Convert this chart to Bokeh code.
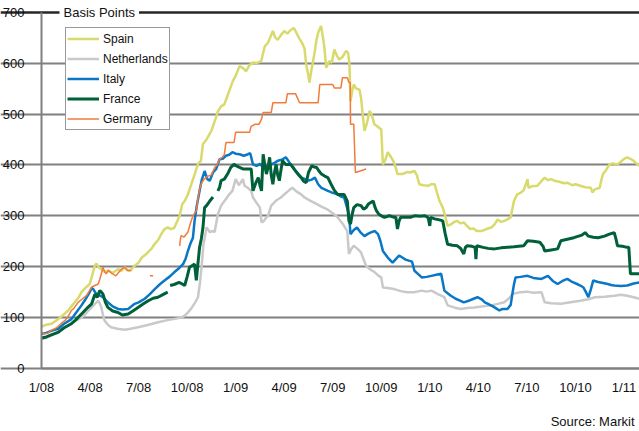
from bokeh.plotting import figure
from bokeh.models import Range1d, FixedTicker, Legend, LegendItem, Label, Grid
from bokeh.embed import file_html
from bokeh.resources import INLINE

nan = float("nan")

# x values: months since January 2008
tick_months = [0, 3, 6, 9, 12, 15, 18, 21, 24, 27, 30, 33, 36]
tick_labels = ["1/08", "4/08", "7/08", "10/08", "1/09", "4/09", "7/09",
               "10/09", "1/10", "4/10", "7/10", "10/10", "1/11"]
y_ticks = [0, 100, 200, 300, 400, 500, 600, 700]
x_end = 36.96

spain = [(0.0, 82), (0.3, 86), (0.62, 88), (0.8, 92), (1.03, 97), (1.3, 104), (1.65, 114),
         (1.85, 122), (2.06, 130), (2.3, 140), (2.47, 150), (2.7, 158), (2.98, 166), (3.15, 185),
         (3.29, 202), (3.4, 206), (3.55, 198), (3.7, 195), (3.9, 190), (4.1, 192), (4.4, 188),
         (4.73, 195), (4.95, 192), (5.14, 199), (5.35, 192), (5.56, 195), (5.76, 202), (6.0, 208),
         (6.2, 218), (6.48, 225), (6.79, 235), (7.0, 245), (7.2, 252), (7.4, 264), (7.6, 274),
         (7.8, 277), (8.0, 274), (8.2, 276), (8.4, 290), (8.54, 300), (8.7, 323), (8.85, 329),
         (9.05, 342), (9.26, 362), (9.45, 380), (9.67, 402), (9.85, 408), (9.98, 441), (10.2, 450),
         (10.5, 467), (10.75, 490), (10.9, 505), (11.1, 515), (11.3, 519), (11.45, 532), (11.6, 545),
         (11.83, 565), (12.0, 575), (12.24, 594), (12.45, 590), (12.65, 584), (12.85, 596),
         (13.07, 601), (13.3, 600), (13.58, 604), (13.8, 633), (14.0, 640), (14.3, 663), (14.45, 650),
         (14.6, 646), (14.8, 655), (15.0, 663), (15.2, 658), (15.4, 665), (15.6, 669), (15.75, 660),
         (15.9, 650), (16.1, 640), (16.26, 628), (16.36, 597), (16.5, 575), (16.56, 562), (16.7, 590),
         (16.77, 601), (16.9, 625), (16.98, 643), (17.1, 660), (17.28, 673), (17.4, 650), (17.49, 628),
         (17.6, 591), (17.7, 598), (17.8, 604), (17.95, 601), (18.1, 627), (18.25, 615), (18.4, 607),
         (18.6, 612), (18.83, 624), (18.95, 620), (19.03, 600), (19.1, 525), (19.2, 545), (19.3, 558),
         (19.45, 550), (19.65, 548), (19.75, 532), (19.85, 500), (19.96, 467), (20.1, 480),
         (20.27, 506), (20.4, 500), (20.57, 480), (20.75, 476), (20.9, 472), (21.0, 470), (21.1, 401),
         (21.25, 410), (21.4, 425), (21.55, 418), (21.7, 410), (21.85, 400), (22.0, 382), (22.3, 382),
         (22.6, 386), (22.8, 385), (23.05, 388), (23.2, 380), (23.35, 362), (23.6, 360), (23.9, 359),
         (24.1, 362), (24.3, 362), (24.45, 345), (24.6, 329), (24.8, 316), (24.95, 300), (25.1, 280),
         (25.3, 283), (25.5, 288), (25.7, 290), (25.9, 285), (26.1, 287), (26.3, 280), (26.5, 274),
         (26.7, 275), (26.9, 270), (27.2, 270), (27.5, 274), (27.8, 277), (28.0, 283), (28.2, 293),
         (28.4, 288), (28.6, 290), (28.8, 293), (29.0, 297), (29.2, 329), (29.4, 342), (29.6, 345),
         (29.8, 350), (30.04, 372), (30.1, 355), (30.3, 358), (30.65, 359), (30.9, 368), (31.1, 375),
         (31.3, 370), (31.5, 372), (31.7, 369), (32.0, 367), (32.3, 364), (32.5, 365), (32.8, 360),
         (33.0, 362), (33.3, 359), (33.6, 356), (33.95, 355), (34.05, 346), (34.2, 352), (34.5, 355),
         (34.6, 370), (34.7, 382), (34.9, 390), (35.1, 401), (35.3, 403), (35.6, 401), (35.8, 406),
         (36.0, 412), (36.2, 415), (36.4, 412), (36.6, 408), (36.8, 402), (36.95, 398)]

netherlands = [(0.0, 58), (0.3, 60), (0.7, 66), (1.0, 72), (1.44, 81), (1.8, 88), (2.1, 94),
               (2.47, 100), (2.8, 110), (3.1, 120), (3.3, 127), (3.5, 133), (3.6, 128), (3.7, 120),
               (3.8, 105), (3.9, 94), (4.1, 86), (4.3, 81), (4.7, 78), (5.14, 76), (5.5, 78),
               (5.97, 81), (6.5, 85), (7.2, 91), (7.8, 95), (8.3, 98), (8.64, 100), (8.85, 104),
               (9.05, 110), (9.3, 120), (9.5, 130), (9.67, 140), (9.8, 170), (9.9, 202), (10.0, 241),
               (10.2, 277), (10.4, 268), (10.6, 270), (10.7, 268), (10.9, 303), (11.1, 320),
               (11.4, 333), (11.6, 342), (11.8, 349), (12.0, 372), (12.2, 360), (12.45, 372),
               (12.55, 359), (12.75, 355), (12.96, 349), (13.07, 336), (13.3, 325), (13.5, 316),
               (13.6, 287), (13.75, 290), (13.9, 297), (14.0, 300), (14.2, 320), (14.5, 330),
               (14.8, 336), (15.0, 342), (15.3, 350), (15.5, 355), (15.75, 348), (16.05, 342),
               (16.25, 336), (16.6, 330), (16.9, 325), (17.3, 318), (17.7, 312), (18.0, 305),
               (18.3, 297), (18.6, 285), (18.9, 270), (19.0, 225), (19.15, 235), (19.3, 241),
               (19.5, 236), (19.75, 228), (19.9, 215), (20.06, 202), (20.3, 195), (20.6, 189),
               (20.8, 183), (21.0, 179), (21.1, 159), (21.4, 158), (21.8, 156), (22.2, 152),
               (22.6, 150), (23.05, 150), (23.5, 153), (23.8, 151), (24.1, 153), (24.5, 146),
               (24.9, 140), (25.1, 124), (25.5, 120), (25.9, 117), (26.3, 119), (26.75, 120),
               (27.2, 122), (27.8, 124), (28.2, 127), (28.6, 130), (28.9, 138), (29.1, 146),
               (29.3, 148), (29.6, 150), (30.0, 151), (30.4, 149), (30.9, 150), (31.1, 130),
               (31.5, 128), (32.1, 127), (32.7, 130), (33.3, 133), (33.8, 136), (34.2, 140),
               (34.8, 141), (35.4, 143), (35.8, 145), (36.2, 143), (36.6, 140), (36.95, 137)]

italy = [(0.0, 68), (0.3, 70), (0.6, 74), (1.03, 78), (1.4, 88), (1.85, 97), (2.1, 108),
         (2.47, 124), (2.7, 135), (2.98, 150), (3.1, 158), (3.2, 156), (3.35, 148), (3.5, 145),
         (3.8, 140), (4.1, 130), (4.4, 122), (4.73, 117), (5.0, 116), (5.35, 117), (5.55, 122),
         (5.76, 127), (6.0, 130), (6.38, 137), (6.7, 146), (7.0, 156), (7.3, 165), (7.6, 173),
         (7.9, 180), (8.2, 189), (8.5, 197), (8.75, 205), (8.9, 215), (9.05, 231), (9.2, 245),
         (9.36, 257), (9.46, 290), (9.6, 320), (9.77, 349), (9.9, 370), (10.08, 388), (10.25, 372),
         (10.4, 369), (10.6, 385), (10.8, 392), (11.0, 411), (11.2, 412), (11.4, 418), (11.6, 420),
         (11.8, 425), (12.0, 422), (12.24, 421), (12.5, 418), (12.76, 421), (12.9, 423),
         (13.07, 401), (13.3, 398), (13.5, 402), (13.7, 395), (13.95, 398), (14.2, 401),
         (14.4, 404), (14.6, 408), (14.85, 410), (15.1, 415), (15.25, 408), (15.4, 401),
         (15.6, 392), (15.8, 385), (16.05, 375), (16.3, 372), (16.5, 369), (16.7, 371),
         (16.9, 375), (17.1, 362), (17.3, 355), (17.5, 352), (17.7, 349), (18.0, 345), (18.3, 342),
         (18.5, 338), (18.7, 336), (18.85, 320), (19.0, 303), (19.1, 264), (19.3, 272), (19.5, 277),
         (19.7, 268), (19.96, 260), (20.2, 265), (20.4, 268), (20.6, 270), (20.8, 264),
         (20.95, 250), (21.1, 231), (21.4, 218), (21.7, 208), (21.9, 215), (22.1, 222),
         (22.3, 218), (22.5, 214), (22.7, 212), (22.9, 210), (23.05, 192), (23.3, 185),
         (23.5, 179), (23.8, 180), (24.1, 182), (24.4, 184), (24.7, 186), (24.9, 153), (25.1, 148),
         (25.3, 143), (25.6, 137), (25.9, 133), (26.1, 130), (26.4, 133), (26.7, 137),
         (26.95, 140), (27.2, 136), (27.4, 130), (27.6, 127), (27.9, 122), (28.1, 118),
         (28.3, 114), (28.5, 117), (28.8, 117), (29.0, 125), (29.1, 146), (29.2, 165), (29.3, 179),
         (29.6, 180), (30.04, 182), (30.4, 178), (30.9, 176), (31.1, 179), (31.3, 182), (31.6, 172),
         (31.9, 166), (32.2, 172), (32.5, 176), (32.8, 170), (33.1, 166), (33.3, 163), (33.5, 159),
         (33.65, 150), (33.8, 140), (33.95, 155), (34.1, 173), (34.4, 170), (34.7, 168),
         (35.0, 166), (35.2, 164), (35.4, 163), (35.8, 162), (36.2, 163), (36.6, 167), (36.95, 169)]

france = [(0.0, 60), (0.3, 62), (0.6, 66), (1.03, 71), (1.4, 80), (1.85, 88), (2.1, 95),
          (2.47, 107), (2.8, 118), (3.1, 127), (3.3, 146), (3.45, 140), (3.6, 153), (3.7, 150),
          (3.8, 146), (3.95, 130), (4.1, 120), (4.4, 113), (4.73, 110), (5.0, 105), (5.35, 107),
          (5.6, 112), (5.97, 120), (6.3, 127), (6.6, 133), (6.9, 138), (7.2, 140), (7.5, 145),
          (7.8, 150), (7.85, nan),
          (7.95, 163), (8.2, 165), (8.5, 169), (8.7, 166), (8.85, 163), (9.0, 180), (9.15, 199),
          (9.3, 202), (9.46, 205), (9.57, 173), (9.65, 200), (9.77, 238), (9.88, 255), (9.98, 277),
          (10.08, 316), (10.2, 320), (10.4, 329), (10.6, 337), (10.75, nan),
          (10.9, 349), (11.0, 355), (11.1, 369), (11.3, 372), (11.5, 382), (11.7, 395),
          (11.9, 401), (12.05, 398), (12.24, 395), (12.45, 392), (12.65, 392), (12.96, 392),
          (13.07, 349), (13.25, 365), (13.4, 375), (13.5, 360), (13.6, 349), (13.7, 421),
          (13.8, 400), (13.9, 382), (14.0, 395), (14.1, 415), (14.2, 380), (14.3, 362), (14.4, 385),
          (14.5, 401), (14.6, 380), (14.7, 369), (14.8, 390), (14.9, 408), (15.1, 401), (15.4, 401),
          (15.55, 395), (15.7, 388), (15.9, 380), (16.05, 375), (16.2, 368), (16.36, 365),
          (16.5, 385), (16.7, 398), (16.85, 396), (17.0, 395), (17.15, 388), (17.3, 382),
          (17.5, 378), (17.7, 375), (17.9, 362), (18.1, 350), (18.3, 342), (18.5, 342), (18.7, 342),
          (18.9, 329), (19.0, 290), (19.1, 284), (19.2, 303), (19.3, 316), (19.5, 322), (19.75, 320),
          (19.9, 313), (20.06, 316), (20.2, 323), (20.35, 326), (20.5, 329), (20.6, 318),
          (20.7, 310), (20.85, 303), (21.0, 300), (21.2, 297), (21.5, 300), (21.8, 297),
          (21.9, 297), (22.0, 274), (22.1, 290), (22.2, 297), (22.5, 297), (22.8, 297),
          (23.05, 300), (23.4, 299), (23.7, 300), (23.9, 296), (24.0, 280), (24.05, 297),
          (24.3, 294), (24.6, 292), (24.8, 290), (24.95, 265), (25.1, 244), (25.4, 242),
          (25.7, 241), (25.9, 236), (26.1, 225), (26.2, 238), (26.3, 241), (26.6, 240), (26.8, 238),
          (26.85, 215), (26.9, 241), (27.3, 238), (27.6, 236), (28.0, 235), (28.4, 237),
          (28.8, 238), (29.2, 239), (29.5, 240), (29.8, 241), (30.04, 251), (30.4, 250),
          (30.8, 248), (31.0, 240), (31.1, 231), (31.5, 233), (31.9, 235), (32.1, 251), (32.5, 254),
          (32.9, 257), (33.2, 260), (33.4, 262), (33.6, 267), (33.8, 260), (34.1, 258), (34.4, 257),
          (34.8, 260), (35.1, 264), (35.4, 267), (35.5, 255), (35.6, 241), (35.9, 240), (36.2, 238),
          (36.3, 238), (36.4, 186), (36.7, 186), (36.95, 186)]

germany = [(0.0, 72), (0.2, 68), (0.4, 70), (0.6, 75), (0.82, 78), (1.0, 82), (1.2, 88),
           (1.44, 94), (1.6, 100), (1.85, 114), (2.0, 118), (2.26, 130), (2.5, 136), (2.78, 143),
           (2.95, 152), (3.1, 160), (3.3, 163), (3.5, 166), (3.6, 175), (3.7, 186), (3.8, 199),
           (3.9, 190), (4.0, 186), (4.15, 193), (4.3, 188), (4.45, 185), (4.6, 182), (4.8, 190),
           (4.94, 195), (5.14, 199), (5.3, 193), (5.56, 192), (6.0, nan),
           (6.7, 182), (6.9, 182), (7.5, nan),
           (8.54, 241), (8.6, 258), (8.64, 261), (8.8, 258), (9.05, 268), (9.2, 285), (9.36, 300),
           (9.57, 310), (9.65, 330), (9.77, 352), (9.9, 365), (10.08, 373), (10.3, 378), (10.5, 380),
           (10.7, 395), (10.85, 400), (11.0, 411), (11.2, 416), (11.3, 420), (11.4, 444),
           (11.9, 444), (12.0, 464), (12.86, 464), (12.95, 475), (13.2, 480), (13.45, 480),
           (13.6, 490), (13.7, 503), (14.2, 503), (14.3, 522), (15.1, 522), (15.2, 540),
           (15.7, 540), (15.95, 522), (17.1, 522), (17.2, 558), (18.0, 558), (18.1, 551),
           (18.5, 551), (18.6, 571), (18.9, 571), (19.0, 562), (19.08, 562), (19.1, 480),
           (19.3, 480), (19.4, 385), (19.7, 388), (20.06, 392)]

series = [("Spain", spain, "#D9DA6C", 2.5),
          ("Netherlands", netherlands, "#C9C9C9", 2.5),
          ("Italy", italy, "#0A77C6", 2.5),
          ("France", france, "#00603A", 3),
          ("Germany", germany, "#F37A3B", 1.5)]

FONT = "Liberation Sans"

# The frame covers the whole canvas, so axis labels and texts are never clipped;
# both axes are pinned at the data origin.
p = figure(width=639, height=431, x_range=Range1d(-2.534, x_end), y_range=Range1d(-123.8, 723),
           output_backend="svg", toolbar_location=None,
           min_border_left=0, min_border_right=0, min_border_top=0, min_border_bottom=0)
p.outline_line_color = None
p.background_fill_color = "white"
p.border_fill_color = "white"

p.xgrid.visible = False
p.ygrid.ticker = FixedTicker(ticks=y_ticks[:-1])
p.ygrid.grid_line_color = "#808080"
p.ygrid.grid_line_width = 2
p.ygrid.bounds = (tick_months[0], x_end)
top_grid = Grid(dimension=1, ticker=FixedTicker(ticks=y_ticks[-1:]),
                grid_line_color="#262626", grid_line_width=2.5,
                bounds=(tick_months[0], x_end))
p.add_layout(top_grid)

p.xaxis.ticker = FixedTicker(ticks=tick_months)
p.xaxis.major_label_overrides = {m: lab for m, lab in zip(tick_months, tick_labels)}
p.xaxis.fixed_location = y_ticks[0]
p.xaxis.bounds = (tick_months[0], x_end)
p.yaxis.ticker = FixedTicker(ticks=y_ticks)
p.yaxis.fixed_location = tick_months[0]
p.yaxis.bounds = (y_ticks[0], y_ticks[-1])
for ax in (p.xaxis[0], p.yaxis[0]):
    ax.axis_line_color = "#808080"
    ax.axis_line_width = 2
    ax.major_tick_line_color = None
    ax.minor_tick_line_color = None
    ax.major_label_text_font = FONT
    ax.major_label_text_font_size = "13px"
    ax.major_label_text_color = "#111111"
p.xaxis.major_label_standoff = 6
p.yaxis.major_label_standoff = 11

items = []
for name, data, color, width in series:
    xs = [d[0] for d in data]
    ys = [d[1] for d in data]
    r = p.line(xs, ys, line_color=color, line_width=width)
    items.append(LegendItem(label=name, renderers=[r]))

legend = Legend(items=items, location=(65, 301), margin=0, padding=1, spacing=1,
                glyph_width=32, glyph_height=19, label_height=19, label_standoff=4,
                label_text_font=FONT, label_text_font_size="12px", label_text_color="#111111",
                border_line_color="#333333", border_line_width=1,
                background_fill_color="white", background_fill_alpha=1)
p.add_layout(legend)

basis = Label(x=tick_months[0], y=y_ticks[-1], x_offset=18, text="Basis Points",
              text_font=FONT, text_font_size="13px", text_color="#111111",
              text_align="left", text_baseline="middle",
              background_fill_color="white", background_fill_alpha=1.0, padding=4)
p.add_layout(basis)

source = Label(x=x_end, y=-104, x_offset=-5, text="Source: Markit",
               text_font=FONT, text_font_size="13px", text_color="#111111",
               text_align="right", text_baseline="middle")
p.add_layout(source)

open("out.html", "w").write(file_html(p, INLINE))
